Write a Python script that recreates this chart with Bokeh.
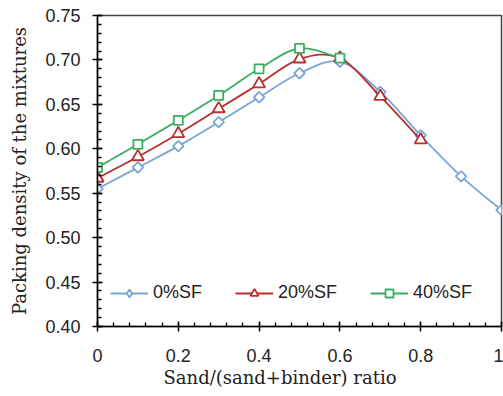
import math
from bokeh.plotting import figure
from bokeh.models import (ColumnDataSource, Range1d, FixedTicker, Legend, LegendItem,
                          NumeralTickFormatter, CustomJSTickFormatter, Title)
from bokeh.embed import file_html
from bokeh.resources import INLINE

# ---- data ----
x_all = [0.0, 0.1, 0.2, 0.3, 0.4, 0.5, 0.6, 0.7, 0.8, 0.9, 1.0]
sf0 = [0.555, 0.579, 0.603, 0.630, 0.658, 0.685, 0.698, 0.664, 0.615, 0.569, 0.531]
x_20 = [0.0, 0.1, 0.2, 0.3, 0.4, 0.5, 0.6, 0.7, 0.8]
sf20 = [0.567, 0.591, 0.617, 0.645, 0.673, 0.701, 0.702, 0.659, 0.610]
x_40 = [0.0, 0.1, 0.2, 0.3, 0.4, 0.5, 0.6]
sf40 = [0.579, 0.605, 0.632, 0.660, 0.690, 0.713, 0.702]
labels = ["0%SF", "20%SF", "40%SF"]
x_ticks = [0, 0.2, 0.4, 0.6, 0.8, 1.0]
y_ticks = [0.40, 0.45, 0.50, 0.55, 0.60, 0.65, 0.70, 0.75]

colors = ["#7aa6d6", "#b5302f", "#3aae62"]
markers = ["square", "triangle", "square"]
legend_markers = ["diamond", "triangle", "square"]
angles = [math.pi / 4, 0, 0]
msizes = [7.5, 12, 9]
legend_sizes = [10, 12, 9]

p = figure(width=503, height=396, output_backend="svg", toolbar_location=None,
           x_range=Range1d(0, 1), y_range=Range1d(0.40, 0.75),
           min_border_left=97, min_border_right=2, min_border_top=15, min_border_bottom=70)
p.background_fill_color = "white"
p.border_fill_color = "white"
p.grid.visible = False
p.outline_line_color = "#444444"
p.outline_line_width = 1.5


def smooth_bezier(xs, ys):
    n = len(xs)
    x0, y0, x1, y1, cx0, cy0, cx1, cy1 = [], [], [], [], [], [], [], []
    for i in range(n - 1):
        pxm = xs[i - 1] if i > 0 else xs[i]
        pym = ys[i - 1] if i > 0 else ys[i]
        pxp = xs[i + 2] if i + 2 < n else xs[i + 1]
        pyp = ys[i + 2] if i + 2 < n else ys[i + 1]
        x0.append(xs[i]); y0.append(ys[i])
        x1.append(xs[i + 1]); y1.append(ys[i + 1])
        cx0.append(xs[i] + (xs[i + 1] - pxm) / 6)
        cy0.append(ys[i] + (ys[i + 1] - pym) / 6)
        cx1.append(xs[i + 1] - (pxp - xs[i]) / 6)
        cy1.append(ys[i + 1] - (pyp - ys[i]) / 6)
    return ColumnDataSource(dict(x0=x0, y0=y0, x1=x1, y1=y1,
                                 cx0=cx0, cy0=cy0, cx1=cx1, cy1=cy1))


series = [(x_all, sf0), (x_20, sf20), (x_40, sf40)]
items = []
for (xs, ys), lab, c, m, lm, a, s, ls in zip(series, labels, colors, markers,
                                            legend_markers, angles, msizes, legend_sizes):
    src = smooth_bezier(xs, ys)
    p.bezier(x0="x0", y0="y0", x1="x1", y1="y1", cx0="cx0", cy0="cy0",
             cx1="cx1", cy1="cy1", source=src, line_color=c, line_width=1.8)
    key = p.line(x=[xs[0]], y=[ys[0]], line_color=c, line_width=1.8)
    # legend key marker (sits beneath the first real marker)
    km = p.scatter(x=[xs[0]], y=[ys[0]], marker=lm, size=ls, line_color=c,
                   line_width=1.8, fill_color="white")
    sc = p.scatter(x=xs, y=ys, marker=m, angle=a, size=s, line_color=c,
                   line_width=1.8, fill_color="white")
    items.append(LegendItem(label=lab, renderers=[key, km]))

legend = Legend(items=items, orientation="horizontal", location=(13, 23),
                border_line_color=None, background_fill_alpha=0,
                label_text_font="Liberation Sans", label_text_font_size="18px",
                label_text_color="#222222", glyph_width=38, glyph_height=20,
                label_standoff=5, spacing=33, padding=0, margin=0)
p.add_layout(legend, "center")

for ax in (p.xaxis[0], p.yaxis[0]):
    ax.axis_line_width = 1.5
    ax.axis_line_color = "black"
    ax.major_tick_line_color = "black"
    ax.minor_tick_line_color = "black"
    ax.major_tick_line_width = 1.5
    ax.minor_tick_line_width = 1.3
    ax.major_tick_in = 5
    ax.major_tick_out = 5
    ax.minor_tick_in = 4
    ax.minor_tick_out = 0
    ax.major_label_text_font = "Liberation Sans"
    ax.major_label_text_font_size = "18px"
    ax.major_label_text_color = "#222222"
    ax.axis_label_text_font = "DejaVu Serif"
    ax.axis_label_text_font_style = "normal"
    ax.axis_label_text_font_size = "18px"
    ax.axis_label_text_color = "#222222"

p.xaxis.ticker = FixedTicker(ticks=x_ticks,
                             minor_ticks=[i * 0.04 for i in range(26)])
p.yaxis.ticker = FixedTicker(ticks=y_ticks,
                             minor_ticks=[0.40 + i * 0.01 for i in range(36)])
p.xaxis.formatter = CustomJSTickFormatter(code="return tick == 0 ? '0' : (tick == 1 ? '1' : tick.toFixed(1));")
p.yaxis.formatter = NumeralTickFormatter(format="0.00")
p.yaxis.axis_label = "Packing density of the mixtures"
p.xaxis.major_label_standoff = 17
p.yaxis.major_label_standoff = 12
p.yaxis.axis_label_standoff = 12

xlabel = Title(text="Sand/(sand+binder) ratio", align="left", offset=66,
               text_font="DejaVu Serif", text_font_size="18px",
               text_font_style="normal", text_color="#222222", standoff=0)
p.add_layout(xlabel, "below")

open("out.html", "w").write(file_html(p, INLINE))
